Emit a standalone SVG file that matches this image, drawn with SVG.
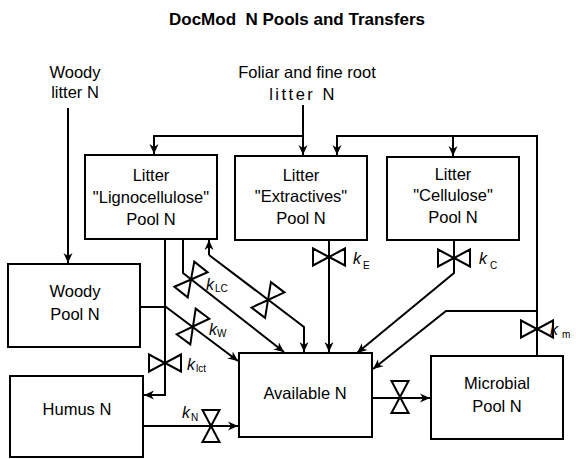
<svg xmlns="http://www.w3.org/2000/svg" width="576" height="459" viewBox="0 0 576 459">
<style>
.t{font-family:"Liberation Sans",Arial,sans-serif;font-size:16.5px;fill:#000;text-anchor:middle}
.title{font-family:"Liberation Sans",Arial,sans-serif;font-size:17px;font-weight:bold;fill:#000;text-anchor:middle}
.box{fill:#fff;stroke:#000;stroke-width:2}
.ln{fill:none;stroke:#000;stroke-width:2}
.ar{marker-end:url(#arr)}
.k{font-family:"Liberation Sans",Arial,sans-serif;font-size:16px;font-style:italic;fill:#000}
.s{font-size:10px;font-style:normal}
.v{fill:#fff;stroke:#000;stroke-width:2;stroke-linejoin:miter}
</style>
<defs>
<marker id="arr" viewBox="0 0 10 10" refX="10" refY="5" markerWidth="10" markerHeight="10" markerUnits="userSpaceOnUse" orient="auto-start-reverse">
<path d="M0,0.5 L10,5 L0,9.5 L3,5 Z" fill="#000"/>
</marker>
<g id="valve">
<path class="v" d="M-16,-8.5 L0,0 L-16,8.5 Z M16,-8.5 L0,0 L16,8.5 Z"/>
</g>
</defs>
<rect width="576" height="459" fill="#fff"/>
<text class="title" x="297" y="25">DocMod&#160; N Pools and Transfers</text>
<text class="t" x="75" y="78">Woody</text>
<text class="t" x="75" y="98">litter N</text>
<text class="t" x="307" y="78">Foliar and fine root</text>
<text class="t" x="303" y="100" letter-spacing="2.5">litter N</text>

<g id="connectors">
<path class="ln ar" d="M68,108 V263"/>
<path class="ln ar" d="M303,105 V155"/>
<path class="ln ar" d="M303,136 H154 V154"/>
<path class="ln ar" d="M537,356 V136 H337 V155"/>
<path class="ln ar" d="M453,136 V156"/>
<path class="ln ar" d="M537,311 H446 L373,369"/>
<path class="ln ar" d="M454,240 V273 L357,353"/>
<path class="ln ar" d="M329,240 V352"/>
<path class="ln ar" d="M209,255 L304,327 V352" />
<path class="ln ar" d="M209,255 V240"/>
<path class="ln ar" d="M183,239 V273 L284,352"/>
<path class="ln ar" d="M140,307 H166 L238,361"/>
<path class="ln ar" d="M165,239 V395 H144"/>
<path class="ln ar" d="M143,426 H238"/>
<path class="ln ar" d="M372,398 H430"/>
</g>

<g id="valves">
<use href="#valve" transform="translate(191,279.5) rotate(-51.6)"/>
<use href="#valve" transform="translate(268,300) rotate(-52.8)"/>
<use href="#valve" transform="translate(193,326.5) rotate(-53.5)"/>
<use href="#valve" transform="translate(329,257)"/>
<use href="#valve" transform="translate(454,258)"/>
<use href="#valve" transform="translate(537,329)"/>
<use href="#valve" transform="translate(165,363)"/>
<use href="#valve" transform="translate(211,426) rotate(90)"/>
<use href="#valve" transform="translate(400,397) rotate(90)"/>
</g>

<g id="labels">
<text class="k" x="206" y="290">k<tspan class="s" dx="1" dy="2">LC</tspan></text>
<text class="k" x="209" y="335">k<tspan class="s" dx="0" dy="2">W</tspan></text>
<text class="k" x="187" y="370">k<tspan class="s" dx="1" dy="2">lct</tspan></text>
<text class="k" x="182" y="418">k<tspan class="s" dx="1" dy="3">N</tspan></text>
<text class="k" x="353" y="264">k<tspan class="s" dx="2" dy="5">E</tspan></text>
<text class="k" x="479" y="264">k<tspan class="s" dx="3" dy="5">C</tspan></text>
<text class="k" x="550" y="335">k<tspan class="s" dx="4" dy="3">m</tspan></text>
</g>

<g id="ligno">
<rect class="box" x="85" y="155" width="132" height="84"/>
<text class="t" x="151" y="181">Litter</text>
<text class="t" x="151" y="203">"Lignocellulose"</text>
<text class="t" x="151" y="225">Pool N</text>
</g>
<g id="extractives">
<rect class="box" x="235" y="156" width="132" height="84"/>
<text class="t" x="301" y="181">Litter</text>
<text class="t" x="301" y="202">"Extractives"</text>
<text class="t" x="301" y="224">Pool N</text>
</g>
<g id="cellulose">
<rect class="box" x="387" y="157" width="132" height="83"/>
<text class="t" x="453" y="180">Litter</text>
<text class="t" x="453" y="201">"Cellulose"</text>
<text class="t" x="453" y="223">Pool N</text>
</g>
<g id="woody">
<rect class="box" x="8" y="264" width="132" height="83"/>
<text class="t" x="75" y="297">Woody</text>
<text class="t" x="75" y="320">Pool N</text>
</g>
<g id="humus">
<rect class="box" x="10" y="376" width="133" height="81"/>
<text class="t" x="77" y="415">Humus N</text>
</g>
<g id="available">
<rect class="box" x="239" y="353" width="133" height="84"/>
<text class="t" x="305" y="399">Available N</text>
</g>
<g id="microbial">
<rect class="box" x="431" y="356" width="132" height="83"/>
<text class="t" x="497" y="389">Microbial</text>
<text class="t" x="497" y="412">Pool N</text>
</g>
</svg>
